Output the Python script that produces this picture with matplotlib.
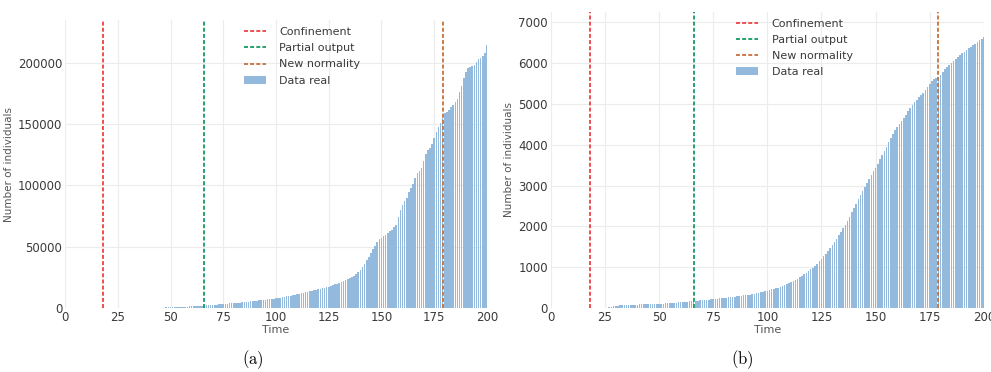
import matplotlib.pyplot as plt
import numpy as np

# (a) cumulative counts, days 45..200
days_a = np.arange(45, 201)
cases_a = [
    300, 350, 400, 450, 500, 550, 600, 650, 700, 750,
    850, 950, 1050, 1150, 1250, 1350, 1450, 1550, 1650, 1750,
    1850, 2000, 2100, 2250, 2400, 2550, 2700, 2850, 3000, 3150,
    3300, 3450, 3600, 3750, 3900, 4050, 4200, 4350, 4500, 4700,
    4900, 5100, 5300, 5500, 5700, 5900, 6100, 6300, 6500, 6700,
    6900, 7100, 7300, 7500, 7700, 7900, 8200, 8500, 8800, 9100,
    9400, 9700, 10000, 10400, 10800, 11200, 11600, 12000, 12400, 12800,
    13200, 13600, 14000, 14400, 14800, 15200, 15600, 16000, 16500, 17000,
    17500, 18000, 18600, 19200, 19800, 20400, 21000, 21800, 22600, 23500,
    24500, 25500, 26500, 27500, 29000, 31000, 33500, 36000, 39000, 42000,
    45000, 48000, 51000, 54000, 56000, 57500, 59000, 60000, 61000, 62500,
    64000, 66000, 68000, 74000, 80000, 84000, 87000, 90000, 95000, 98000,
    101000, 106000, 110000, 112000, 114000, 120000, 126000, 129000, 131000, 134000,
    139000, 144000, 148000, 151000, 155000, 159000, 160000, 162000, 164000, 166000,
    168000, 171000, 176000, 181000, 188000, 193000, 196000, 197000, 197500, 198000,
    201000, 203000, 204000, 205500, 208000, 215000,
]

# (b) cumulative counts, days 27..200
days_b = np.arange(27, 201)
cases_b = [
    25, 35, 45, 55, 60, 65, 70, 72, 75, 78,
    80, 82, 83, 85, 87, 88, 90, 92, 93, 95,
    97, 99, 101, 103, 106, 110, 113, 117, 121, 125,
    130, 135, 140, 145, 149, 153, 157, 161, 165, 170,
    175, 180, 185, 190, 196, 202, 208, 214, 220, 226,
    232, 238, 244, 250, 256, 262, 268, 274, 280, 287,
    294, 301, 308, 315, 323, 331, 340, 350, 360, 371,
    383, 396, 410, 425, 440, 455, 470, 486, 502, 520,
    540, 562, 585, 610, 635, 662, 690, 720, 752, 786,
    822, 860, 900, 945, 990, 1040, 1090, 1145, 1200, 1265,
    1330, 1400, 1470, 1545, 1620, 1700, 1780, 1865, 1950, 2040,
    2140, 2240, 2350, 2460, 2560, 2660, 2760, 2860, 2960, 3060,
    3160, 3260, 3350, 3440, 3540, 3640, 3740, 3840, 3950, 4060,
    4160, 4260, 4350, 4430, 4500, 4580, 4660, 4740, 4820, 4900,
    4970, 5040, 5100, 5160, 5220, 5280, 5350, 5420, 5500, 5560,
    5600, 5630, 5660, 5720, 5790, 5850, 5900, 5950, 6000, 6060,
    6110, 6150, 6200, 6240, 6280, 6320, 6360, 6400, 6440, 6480,
    6520, 6560, 6600, 6640,
]

events = [18, 66, 179]
event_labels = ['Confinement', 'Partial output', 'New normality']
event_colors = ['#f04040', '#169b62', '#c8703c']
bar_color = '#93b9dc'
txt = '#3a3a3a'


def draw_panel(ax, days, cases, ymax, yticks, legend_x):
    ax.set_axisbelow(True)
    ax.grid(True, color='#ececec', linewidth=0.8)
    for s in ax.spines.values():
        s.set_visible(False)
    for x, lab, c in zip(events, event_labels, event_colors):
        ax.axvline(x, color=c, linestyle=(0, (2.2, 1.2)), linewidth=1.3, label=lab)
    ax.bar(days, cases, width=0.75, color=bar_color, label='Data real')
    ax.set_xlim(0, 200)
    ax.set_ylim(0, ymax)
    ax.set_xticks(range(0, 201, 25))
    ax.set_yticks(yticks)
    ax.tick_params(length=0, labelsize=8.5, colors=txt, pad=2)
    ax.set_xlabel('Time', fontsize=8, color='#555555', labelpad=1)
    ax.set_ylabel('Number of individuals', fontsize=7.5, color='#555555', labelpad=3)
    ax.legend(loc='upper left', bbox_to_anchor=(legend_x, 1.01), frameon=False,
              fontsize=8, labelcolor=txt, handlelength=2.0, labelspacing=0.55,
              handletextpad=1.2)


fig = plt.figure(figsize=(9.91, 3.72), dpi=100)
ax1 = fig.add_axes([0.0656, 0.172, 0.4258, 0.774])
ax2 = fig.add_axes([0.5557, 0.172, 0.4372, 0.797])

draw_panel(ax1, days_a, cases_a, 235000, range(0, 200001, 50000), 0.4)
draw_panel(ax2, days_b, cases_b, 7265, range(0, 7001, 1000), 0.405)

plt.rcParams['mathtext.fontset'] = 'cm'
fig.text(253 / 991, 1 - 360 / 372, r'$\mathrm{(a)}$', fontsize=12, ha='center', va='center')
fig.text(742 / 991, 1 - 360 / 372, r'$\mathrm{(b)}$', fontsize=12, ha='center', va='center')

fig.savefig('out.png', dpi=100)
